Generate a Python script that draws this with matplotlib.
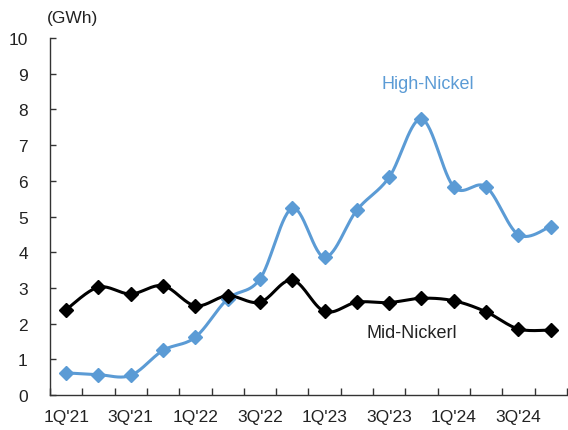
import numpy as np
import matplotlib
matplotlib.use("Agg")
import matplotlib.pyplot as plt

plt.rcParams['font.family'] = ['Liberation Sans', 'DejaVu Sans']

quarters = ["1Q'21", "2Q'21", "3Q'21", "4Q'21",
            "1Q'22", "2Q'22", "3Q'22", "4Q'22",
            "1Q'23", "2Q'23", "3Q'23", "4Q'23",
            "1Q'24", "2Q'24", "3Q'24", "4Q'24"]
high_nickel = [0.62, 0.57, 0.55, 1.25, 1.62, 2.69, 3.25, 5.23,
               3.86, 5.18, 6.10, 7.73, 5.83, 5.83, 4.49, 4.72]
mid_nickel = [2.39, 3.02, 2.83, 3.06, 2.50, 2.78, 2.60, 3.22,
              2.34, 2.60, 2.59, 2.71, 2.64, 2.33, 1.85, 1.82]

BLUE = "#5B9BD5"
TEXT = "#222222"


def smooth(x, y, n=30):
    """Catmull-Rom style cubic Bezier smoothing through every point."""
    x = np.asarray(x, float)
    y = np.asarray(y, float)
    pts = np.column_stack([x, y])
    out = []
    for i in range(len(pts) - 1):
        p0 = pts[i - 1] if i > 0 else pts[i]
        p1 = pts[i]
        p2 = pts[i + 1]
        p3 = pts[i + 2] if i + 2 < len(pts) else pts[i + 1]
        c1 = p1 + (p2 - p0) / 6.0
        c2 = p2 - (p3 - p1) / 6.0
        t = np.linspace(0, 1, n, endpoint=(i == len(pts) - 2))[:, None]
        seg = ((1 - t) ** 3) * p1 + 3 * ((1 - t) ** 2) * t * c1 \
            + 3 * (1 - t) * t ** 2 * c2 + t ** 3 * p2
        out.append(seg)
    arr = np.vstack(out)
    return arr[:, 0], arr[:, 1]


fig = plt.figure(figsize=(5.68, 4.31), dpi=100)
ax = fig.add_axes([0.088, 0.0812, 0.91, 0.8283])

xs = np.arange(len(quarters))

sx, sy = smooth(xs, high_nickel)
ax.plot(sx, sy, color=BLUE, lw=2.2, solid_capstyle='round', zorder=2)
ax.plot(xs, high_nickel, ls='none', marker='D', ms=7, color=BLUE, zorder=3)

sx, sy = smooth(xs, mid_nickel)
ax.plot(sx, sy, color='black', lw=2.2, solid_capstyle='round', zorder=2)
ax.plot(xs, mid_nickel, ls='none', marker='D', ms=7, color='black', zorder=3)

ax.set_xlim(-0.5, len(quarters) - 0.5)
ax.set_ylim(0, 10)
ax.set_yticks(range(0, 11))

# category boundaries carry the tick marks; labels sit on every other quarter
ax.set_xticks(np.arange(-0.5, len(quarters), 1.0))
ax.set_xticklabels([])
ax.set_xticks(xs[::2], minor=True)
ax.set_xticklabels(quarters[::2], minor=True)
ax.tick_params(axis='x', which='major', direction='in', length=5, width=1, color='#333333')
ax.tick_params(axis='x', which='minor', length=0, pad=10, labelsize=12.5, labelcolor=TEXT)
ax.tick_params(axis='y', direction='in', length=4, width=1, color='#333333',
               pad=16, labelsize=12.5, labelcolor=TEXT)

for s in ('top', 'right'):
    ax.spines[s].set_visible(False)
for s in ('left', 'bottom'):
    ax.spines[s].set_color('#333333')
    ax.spines[s].set_linewidth(1)

fig.text(73 / 568, 1 - 19 / 431, "(GWh)", ha='center', va='center',
         fontsize=12.5, color=TEXT)
ax.text(11.2, 8.72, "High-Nickel", ha='center', va='center',
        fontsize=13, color=BLUE)
ax.text(10.7, 1.76, "Mid-Nickerl", ha='center', va='center',
        fontsize=13, color=TEXT)

fig.savefig("out.png", dpi=100)
